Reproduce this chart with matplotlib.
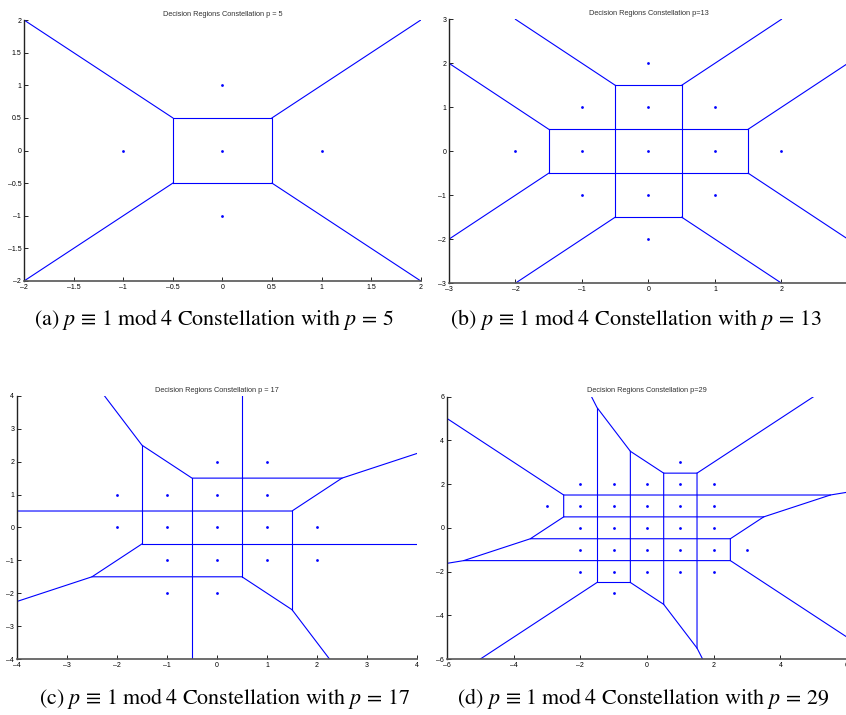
import numpy as np
import matplotlib.pyplot as plt

plt.rcParams['mathtext.fontset'] = 'stix'

# constellation points
x_5 = [0, 1, -1, 0, 0]
y_5 = [0, 0, 0, 1, -1]

x_13 = [0, 1, -1, 0, 0, 1, 1, -1, -1, 2, -2, 0, 0]
y_13 = [0, 0, 0, 1, -1, 1, -1, 1, -1, 0, 0, 2, -2]

x_17 = [0, 1, -2, -1, 0, 1, -2, -1, 0, 1, 2, -1, 0, 1, 2, -1, 0]
y_17 = [2, 2, 1, 1, 1, 1, 0, 0, 0, 0, 0, -1, -1, -1, -1, -2, -2]

x_29 = [1,
        -2, -1, 0, 1, 2,
        -3, -2, -1, 0, 1, 2,
        -2, -1, 0, 1, 2,
        -2, -1, 0, 1, 2, 3,
        -2, -1, 0, 1, 2,
        -1]
y_29 = [3,
        2, 2, 2, 2, 2,
        1, 1, 1, 1, 1, 1,
        0, 0, 0, 0, 0,
        -1, -1, -1, -1, -1, -1,
        -2, -2, -2, -2, -2,
        -3]

# decision region boundaries (polylines)
edges_5 = [
    [(-0.5, -0.5), (0.5, -0.5), (0.5, 0.5), (-0.5, 0.5), (-0.5, -0.5)],
    [(-0.5, 0.5), (-2, 2)],
    [(0.5, 0.5), (2, 2)],
    [(-0.5, -0.5), (-2, -2)],
    [(0.5, -0.5), (2, -2)],
]

edges_13 = [
    [(-1.5, 0.5), (1.5, 0.5)],
    [(-1.5, -0.5), (1.5, -0.5)],
    [(-0.5, -1.5), (-0.5, 1.5)],
    [(0.5, -1.5), (0.5, 1.5)],
    [(-1.5, -0.5), (-1.5, 0.5)],
    [(1.5, -0.5), (1.5, 0.5)],
    [(-0.5, 1.5), (0.5, 1.5)],
    [(-0.5, -1.5), (0.5, -1.5)],
    [(-3, 2), (-1.5, 0.5)],
    [(-2, 3), (-0.5, 1.5)],
    [(2, 3), (0.5, 1.5)],
    [(3, 2), (1.5, 0.5)],
    [(-3, -2), (-1.5, -0.5)],
    [(-2, -3), (-0.5, -1.5)],
    [(2, -3), (0.5, -1.5)],
    [(3, -2), (1.5, -0.5)],
]

edges_17 = [
    [(-2.25, 4), (-1.5, 2.5), (-0.5, 1.5), (2.5, 1.5), (4, 2.25)],
    [(2.5, 1.5), (1.5, 0.5), (-4, 0.5)],
    [(1.5, 0.5), (1.5, -2.5)],
    [(-1.5, 2.5), (-1.5, -0.5), (4, -0.5)],
    [(-1.5, -0.5), (-2.5, -1.5), (-4, -2.25)],
    [(-2.5, -1.5), (0.5, -1.5), (1.5, -2.5), (2.25, -4)],
    [(-0.5, 1.5), (-0.5, -4)],
    [(0.5, 4), (0.5, -1.5)],
]

edges_29 = [
    [(-6, 5), (-2.5, 1.5), (5.5, 1.5), (6, 1.625)],
    [(-2.5, 1.5), (-2.5, 0.5), (3.5, 0.5), (5.5, 1.5)],
    [(-2.5, 0.5), (-3.5, -0.5), (2.5, -0.5), (3.5, 0.5)],
    [(-3.5, -0.5), (-5.5, -1.5), (2.5, -1.5), (2.5, -0.5)],
    [(-6, -1.625), (-5.5, -1.5)],
    [(2.5, -1.5), (6, -5)],
    [(5, 6), (1.5, 2.5), (0.5, 2.5), (-0.5, 3.5), (-1.5, 5.5), (-1.667, 6)],
    [(1.5, 2.5), (1.5, -5.5), (1.667, -6)],
    [(0.5, 2.5), (0.5, -3.5), (1.5, -5.5)],
    [(-0.5, 3.5), (-0.5, -2.5), (0.5, -3.5)],
    [(-1.5, 5.5), (-1.5, -2.5), (-0.5, -2.5)],
    [(-1.5, -2.5), (-5, -6)],
]

titles = ['Decision Regions Constellation p = 5',
          'Decision Regions Constellation p=13',
          'Decision Regions Constellation p = 17',
          'Decision Regions Constellation p=29']
captions = [r'(a) $p\,\equiv\,1\;\mathrm{mod}\;4$ Constellation with $p\,=\,5$',
            r'(b) $p\,\equiv\,1\;\mathrm{mod}\;4$ Constellation with $p\,=\,13$',
            r'(c) $p\,\equiv\,1\;\mathrm{mod}\;4$ Constellation with $p\,=\,17$',
            r'(d) $p\,\equiv\,1\;\mathrm{mod}\;4$ Constellation with $p\,=\,29$']

lims = [2, 3, 4, 6]
xticks = [np.arange(-2, 2.01, 0.5), np.arange(-3, 3.01, 1),
          np.arange(-4, 4.01, 1), np.arange(-6, 6.01, 2)]
yticks = xticks
tick_labels = [['-2', '-1.5', '-1', '-0.5', '0', '0.5', '1', '1.5', '2'],
               ['-3', '-2', '-1', '0', '1', '2', '3'],
               ['-4', '-3', '-2', '-1', '0', '1', '2', '3', '4'],
               ['-6', '-4', '-2', '0', '2', '4', '6']]

xs = [x_5, x_13, x_17, x_29]
ys = [y_5, y_13, y_17, y_29]
edges = [edges_5, edges_13, edges_17, edges_29]

# axes boxes in figure fractions [left, bottom, width, height]
boxes = [[0.0284, 0.607, 0.469, 0.365],
         [0.5307, 0.604, 0.4716, 0.369],
         [0.0201, 0.0783, 0.4728, 0.368],
         [0.5284, 0.0783, 0.4728, 0.367]]
cap_pos = [(0.253, 0.553), (0.752, 0.553), (0.265, 0.023), (0.760, 0.023)]

fig = plt.figure(figsize=(8.46, 7.15), dpi=100)

for i in range(4):
    ax = fig.add_axes(boxes[i])
    for line in edges[i]:
        pts = np.array(line)
        ax.plot(pts[:, 0], pts[:, 1], color='#0000ff', lw=0.8)
    ax.plot(xs[i], ys[i], 'o', color='#0000ff', ms=2.0, mew=0)
    L = lims[i]
    ax.set_xlim(-L, L)
    ax.set_ylim(-L, L)
    labels = [t.replace('-', '\u2013') for t in tick_labels[i]]
    ax.set_xticks(xticks[i])
    ax.set_xticklabels(labels)
    ax.set_yticks(yticks[i])
    ax.set_yticklabels(labels)
    ax.tick_params(direction='in', length=3, width=0.6, labelsize=5, pad=2)
    for lab in ax.get_xticklabels() + ax.get_yticklabels():
        lab.set_fontfamily('Liberation Sans')
    ax.spines['top'].set_visible(False)
    ax.spines['right'].set_visible(False)
    ax.spines['left'].set_color('#222222')
    ax.spines['bottom'].set_color('#555555')
    ax.spines['left'].set_linewidth(1.0)
    ax.spines['bottom'].set_linewidth(1.2)
    ax.set_title(titles[i], fontsize=5.3, family='Liberation Sans',
                 color='#333333', pad=3)
    fig.text(cap_pos[i][0], cap_pos[i][1], captions[i], ha='center',
             va='center', fontsize=15.8, family='STIXGeneral')

plt.savefig('out.png', dpi=100)
